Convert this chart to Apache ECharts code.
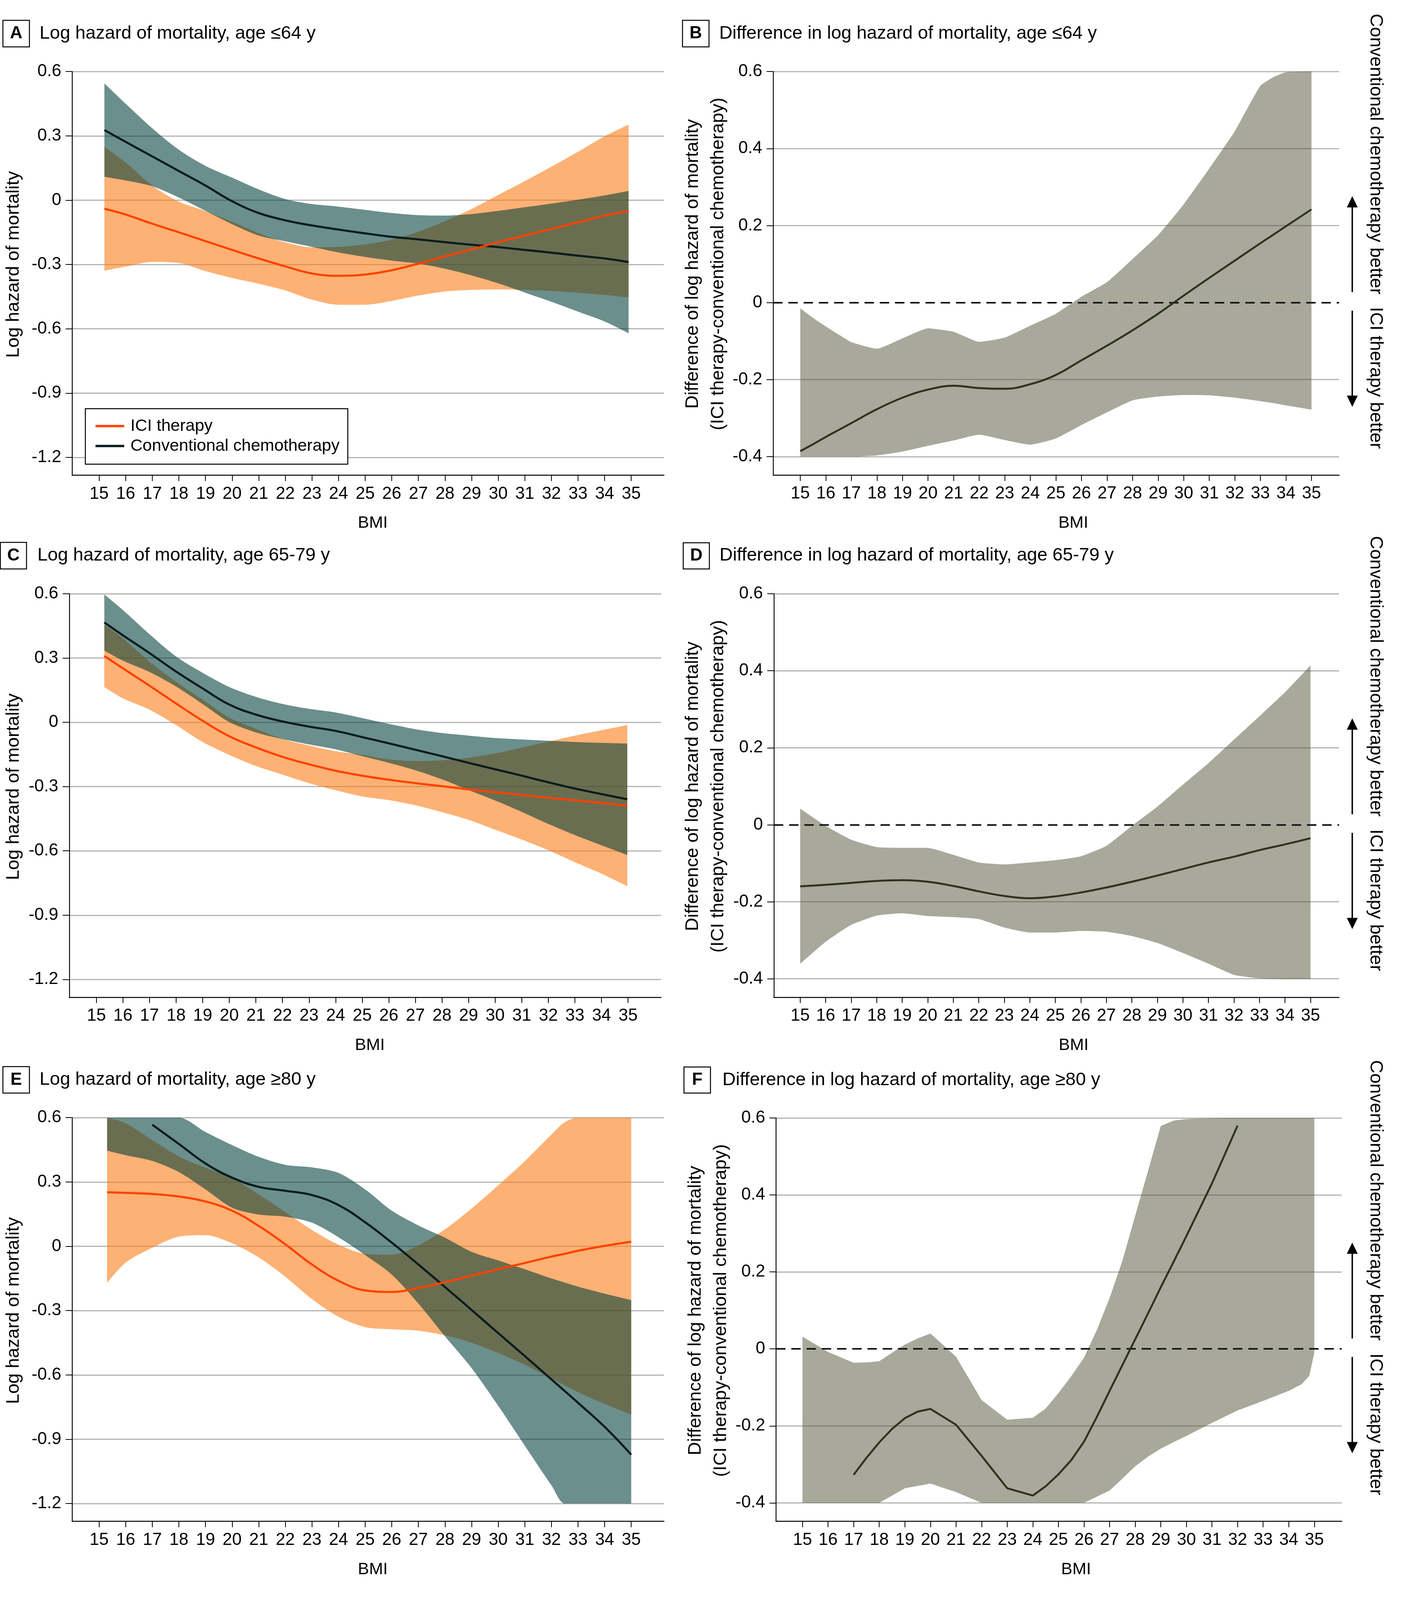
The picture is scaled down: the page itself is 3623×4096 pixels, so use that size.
<!DOCTYPE html>
<html><head><meta charset="utf-8">
<script src="https://cdn.jsdelivr.net/npm/echarts@6/dist/echarts.min.js"></script>
<style>html,body{margin:0;padding:0;background:#fff}#c{width:3623px;height:4096px}</style>
</head><body><div id="c"></div>
<script>
// ---------------- DATA ----------------
const bmiTicks = [15,16,17,18,19,20,21,22,23,24,25,26,27,28,29,30,31,32,33,34,35];
const hazardTicks = [-1.2,-0.9,-0.6,-0.3,0,0.3,0.6];
const diffTicks = [-0.4,-0.2,0,0.2,0.4,0.6];
const diffGridTicks = [-0.4,-0.2,0.2,0.4,0.6];

// Panel A: age <=64
const bmiA = [15.2,16,17,18,19,20,21,22,23,24,25,26,27,28,29,30,31,32,33,34,34.9];
const iciA = [-0.040,-0.067,-0.110,-0.150,-0.191,-0.232,-0.272,-0.309,-0.342,-0.353,-0.347,-0.327,-0.296,-0.262,-0.230,-0.196,-0.165,-0.134,-0.103,-0.072,-0.051];
const iciLowA = [-0.329,-0.310,-0.288,-0.293,-0.331,-0.363,-0.390,-0.421,-0.464,-0.488,-0.488,-0.470,-0.445,-0.426,-0.419,-0.416,-0.419,-0.424,-0.432,-0.442,-0.454];
const iciHighA = [0.249,0.176,0.068,-0.007,-0.051,-0.101,-0.154,-0.197,-0.220,-0.218,-0.206,-0.184,-0.147,-0.098,-0.041,0.024,0.089,0.156,0.226,0.298,0.352];
const chemoA = [0.327,0.272,0.204,0.136,0.068,-0.005,-0.060,-0.094,-0.118,-0.137,-0.155,-0.171,-0.183,-0.196,-0.208,-0.219,-0.232,-0.245,-0.259,-0.272,-0.289];
const chemoLowA = [0.109,0.092,0.065,0.012,-0.050,-0.112,-0.165,-0.192,-0.218,-0.244,-0.265,-0.282,-0.296,-0.320,-0.351,-0.388,-0.431,-0.474,-0.520,-0.566,-0.621];
const chemoHighA = [0.545,0.450,0.335,0.235,0.160,0.105,0.050,0.005,-0.018,-0.030,-0.045,-0.060,-0.070,-0.072,-0.065,-0.050,-0.033,-0.016,0.002,0.022,0.043];

// Panel B: difference, age <=64
const bmiB = [15,15.5,16,16.5,17,18,19,20,21,22,23,24,25,26,27,28,29,30,31,32,33,33.5,34,35];
const diffB = [-0.386,-0.368,-0.349,-0.331,-0.313,-0.277,-0.247,-0.226,-0.216,-0.222,-0.224,-0.212,-0.188,-0.150,-0.112,-0.072,-0.029,0.018,0.064,0.109,0.154,0.176,0.198,0.242];
const diffLowB = [-0.400,-0.400,-0.400,-0.400,-0.400,-0.397,-0.387,-0.372,-0.358,-0.343,-0.357,-0.369,-0.353,-0.318,-0.285,-0.254,-0.244,-0.240,-0.241,-0.247,-0.256,-0.261,-0.267,-0.278];
const diffHighB = [-0.015,-0.040,-0.062,-0.083,-0.103,-0.120,-0.093,-0.067,-0.076,-0.102,-0.091,-0.060,-0.029,0.015,0.053,0.113,0.175,0.255,0.348,0.445,0.563,0.585,0.598,0.600];

// Panel C: age 65-79
const bmiC = [15.3,16,17,18,19,20,21,22,23,24,25,26,27,28,29,30,31,32,33,34,34.97];
const iciC = [0.310,0.252,0.171,0.088,0.007,-0.065,-0.117,-0.161,-0.196,-0.226,-0.249,-0.268,-0.284,-0.298,-0.313,-0.326,-0.339,-0.352,-0.364,-0.376,-0.389];
const iciLowC = [0.165,0.112,0.059,-0.013,-0.092,-0.152,-0.204,-0.244,-0.284,-0.317,-0.346,-0.363,-0.387,-0.419,-0.455,-0.501,-0.547,-0.597,-0.653,-0.706,-0.765];
const iciHighC = [0.455,0.392,0.283,0.189,0.106,0.022,-0.030,-0.078,-0.108,-0.135,-0.152,-0.173,-0.181,-0.177,-0.165,-0.145,-0.118,-0.090,-0.062,-0.037,-0.013];
const chemoC = [0.466,0.406,0.323,0.237,0.158,0.083,0.036,0.004,-0.020,-0.040,-0.069,-0.098,-0.128,-0.158,-0.189,-0.219,-0.249,-0.280,-0.309,-0.335,-0.359];
const chemoLowC = [0.335,0.288,0.235,0.167,0.085,0.001,-0.047,-0.078,-0.103,-0.126,-0.158,-0.189,-0.224,-0.266,-0.316,-0.365,-0.418,-0.474,-0.526,-0.574,-0.619];
const chemoHighC = [0.597,0.524,0.411,0.307,0.231,0.165,0.119,0.086,0.063,0.046,0.020,-0.007,-0.032,-0.050,-0.062,-0.073,-0.080,-0.086,-0.092,-0.096,-0.099];

// Panel D: difference, age 65-79
const bmiD = [15,16,17,18,19,20,21,22,23,24,25,26,27,28,29,30,31,32,33,34,35];
const diffD = [-0.160,-0.156,-0.151,-0.146,-0.144,-0.148,-0.159,-0.173,-0.185,-0.191,-0.186,-0.176,-0.163,-0.148,-0.132,-0.115,-0.098,-0.083,-0.066,-0.051,-0.035];
const diffLowD = [-0.361,-0.304,-0.260,-0.236,-0.230,-0.237,-0.240,-0.245,-0.267,-0.280,-0.280,-0.276,-0.278,-0.289,-0.307,-0.333,-0.361,-0.390,-0.399,-0.401,-0.401];
const diffHighD = [0.042,-0.003,-0.039,-0.058,-0.060,-0.060,-0.078,-0.098,-0.103,-0.098,-0.092,-0.082,-0.055,-0.003,0.047,0.104,0.160,0.221,0.282,0.344,0.414];

// Panel E: age >=80
const bmiE = [15.3,16,17,18,19,20,21,22,23,24,25,26,27,28,29,30,31,32,32.5,33,34,35];
const iciE = [0.252,0.249,0.244,0.232,0.209,0.166,0.095,0.009,-0.085,-0.161,-0.206,-0.213,-0.195,-0.168,-0.137,-0.107,-0.078,-0.048,-0.035,-0.021,0.002,0.021];
const iciLowE = [-0.171,-0.076,-0.007,0.045,0.052,0.014,-0.052,-0.142,-0.246,-0.329,-0.377,-0.387,-0.394,-0.415,-0.450,-0.498,-0.553,-0.617,-0.649,-0.681,-0.735,-0.785];
const iciHighE = [0.600,0.574,0.495,0.419,0.366,0.318,0.242,0.160,0.076,0.007,-0.035,-0.039,0.004,0.079,0.176,0.284,0.397,0.521,0.579,0.600,0.600,0.600];
const chemoE = [null,null,0.567,0.477,0.386,0.320,0.277,0.259,0.239,0.192,0.112,0.017,-0.085,-0.190,-0.297,-0.405,-0.512,-0.621,-0.675,-0.730,-0.842,-0.972];
const chemoLowE = [0.446,0.425,0.398,0.346,0.265,0.180,0.148,0.138,0.110,0.042,-0.041,-0.132,-0.267,-0.420,-0.568,-0.744,-0.930,-1.115,-1.200,-1.200,-1.200,-1.200];
const chemoHighE = [0.600,0.600,0.600,0.600,0.533,0.472,0.417,0.380,0.368,0.342,0.265,0.166,0.097,0.040,-0.026,-0.066,-0.107,-0.150,-0.169,-0.188,-0.221,-0.251];

// Panel F: difference, age >=80
const bmiF = [15,16,17,17.5,18,18.5,19,19.5,20,21,22,23,24,24.5,25,25.5,26,26.5,27,27.5,28,28.5,29,29.5,30,31,32,33,34,34.5,34.8,35];
const diffF = [null,null,-0.327,-0.283,-0.243,-0.208,-0.180,-0.163,-0.156,-0.197,-0.278,-0.362,-0.381,-0.357,-0.326,-0.289,-0.241,-0.177,-0.109,-0.042,0.025,0.092,0.160,0.226,0.293,0.430,0.580,null,null,null,null,null];
const diffLowF = [-0.400,-0.400,-0.400,-0.400,-0.400,-0.381,-0.362,-0.356,-0.350,-0.372,-0.400,-0.400,-0.400,-0.400,-0.400,-0.400,-0.400,-0.384,-0.368,-0.337,-0.305,-0.280,-0.259,-0.242,-0.226,-0.192,-0.160,-0.135,-0.109,-0.092,-0.070,-0.010];
const diffHighF = [0.032,-0.008,-0.036,-0.035,-0.032,-0.010,0.011,0.027,0.040,-0.020,-0.133,-0.184,-0.179,-0.155,-0.115,-0.071,-0.023,0.049,0.132,0.229,0.346,0.462,0.579,0.593,0.597,0.599,0.600,0.600,0.600,0.600,0.600,0.600];

const panelTitles = [
  'Log hazard of mortality, age \u226464 y',
  'Difference in log hazard of mortality, age \u226464 y',
  'Log hazard of mortality, age 65-79 y',
  'Difference in log hazard of mortality, age 65-79 y',
  'Log hazard of mortality, age \u226580 y',
  'Difference in log hazard of mortality, age \u226580 y'
];
const panelLetters = ['A','B','C','D','E','F'];
const seriesNames = ['ICI therapy', 'Conventional chemotherapy'];
const hazardName = 'Log hazard of mortality';
const diffName = 'Difference of log hazard of mortality\n(ICI therapy-conventional chemotherapy)';
const upNote = 'Conventional chemotherapy better';
const downNote = 'ICI therapy better';

// ---------------- LAYOUT (reference pixels, scaled by S) ----------------
const S = 0.93;
const FONT = 'Liberation Sans, Arial, sans-serif';
const COL = {
  ici: '#ff4200', chemo: '#0a1c1c', diff: '#30321f',
  iciBand: 'rgba(252,125,23,0.6)', chemoBand: 'rgba(0,62,57,0.58)', diffBand: 'rgba(82,84,56,0.5)',
  grid: '#b4b4b4'
};
const layout = [
  {l:198.8, r:1828, t:197, b:1308, xmin:13.99, xmax:36.23, kind:'hazard'},
  {l:2128.6, r:3686.7, t:196.9, b:1307.7, xmin:13.94, xmax:36.08, kind:'diff'},
  {l:190.6, r:1820, t:1634.5, b:2745, xmin:13.98, xmax:36.24, kind:'hazard'},
  {l:2130.6, r:3686.7, t:1634.5, b:2745, xmin:13.97, xmax:36.12, kind:'diff'},
  {l:198.8, r:1828, t:3076.5, b:4187.8, xmin:13.99, xmax:36.23, kind:'hazard'},
  {l:2136.7, r:3694, t:3077.3, b:4187.8, xmin:13.97, xmax:36.07, kind:'diff'}
];
const boxes = [[8,56,73,73],[1879,56,73,73],[1,1493,72,73],[1881,1494,72,72],[8,2936,73,73],[1883,2937,73,72]];
const titlePos = [[109,92.5],[1980,92.5],[103,1529.5],[1981,1529.5],[109,2972.5],[1989,2973]];
const yNamePos = [[38,728],[1943,726.5],[38,2165.6],[1943,2164.5],[38,3607.7],[1950,3607.5]];
const noteOffsets = [0, 1437.5, 2880.3];

const grids = [], xAxes = [], yAxes = [], series = [];

function xy(xs, ys) { return xs.map((x, i) => [x, ys[i]]); }
// band = invisible lower line + stacked (upper - lower) area; data stored as [y, x]
// so that the stacked dimension is the value (y) dimension.
function bandSeries(gi, yi, id, xs, lo, hi, color, smooth, z) {
  const common = {type:'line', xAxisIndex:gi, yAxisIndex:yi, stack:'band'+id, stackStrategy:'all',
    encode:{x:1, y:0},
    symbol:'none', showSymbol:false, smooth:smooth, silent:true, z:z,
    lineStyle:{width:0, opacity:0}, emphasis:{disabled:true}};
  series.push(Object.assign({}, common, {name:id+'-lo', data: xs.map((x, i) => [lo[i], x])}));
  series.push(Object.assign({}, common, {name:id+'-hi',
    data: xs.map((x, i) => [+(hi[i] - lo[i]).toFixed(4), x]),
    areaStyle:{color:color, opacity:1}}));
}
function lineSeries(gi, yi, name, xs, ys, color, width, smooth, z, extra) {
  series.push(Object.assign({type:'line', name:name, xAxisIndex:gi, yAxisIndex:yi, data: xy(xs, ys),
    symbol:'none', showSymbol:false, smooth:smooth, silent:true, z:z, connectNulls:false,
    itemStyle:{color:color}, lineStyle:{color:color, width:width, cap:'butt'}, emphasis:{disabled:true}}, extra || {}));
}

layout.forEach((p, gi) => {
  grids.push({left:p.l*S, top:p.t*S, width:(p.r-p.l)*S, height:(p.b-p.t)*S,
    containLabel:false, outerBoundsMode:'none'});
  const isHaz = p.kind === 'hazard';
  xAxes.push({type:'value', gridIndex:gi, min:p.xmin, max:p.xmax,
    name:'BMI', nameLocation:'middle', nameGap:101.7,
    nameTextStyle:{fontSize:43, color:'#000', fontFamily:FONT, padding:[0,0,0,isHaz?24:88]},
    axisLine:{show:true, onZero:false, lineStyle:{color:'#000', width:2.6}},
    axisTick:{show:true, customValues:bmiTicks, length:15, lineStyle:{color:'#000', width:2}},
    axisLabel:{show:true, customValues:bmiTicks, margin:26, fontSize:44, color:'#000', fontFamily:FONT},
    splitLine:{show:false}, splitArea:{show:false}});
  const yMin = isHaz ? -1.283 : -0.448;
  const ticks = isHaz ? hazardTicks : diffTicks;
  const yi = yAxes.length;
  yAxes.push({type:'value', gridIndex:gi, min:yMin, max:0.6, position:'left',
    axisLine:{show:true, onZero:false, lineStyle:{color:'#000', width:2.3}},
    axisTick:{show:true, customValues:ticks, length:17, lineStyle:{color:'#000', width:2}},
    axisLabel:{show:true, customValues:ticks, margin:28, fontSize:44, color:'#000', fontFamily:FONT},
    splitLine:{show:isHaz, lineStyle:{color:COL.grid, width:2.9}}, splitArea:{show:false}});
  if (!isHaz) {
    yAxes.push({type:'value', gridIndex:gi, min:yMin, max:0.6, position:'right',
      axisLine:{show:false}, axisLabel:{show:false},
      axisTick:{show:false, customValues:diffGridTicks},
      splitLine:{show:true, lineStyle:{color:COL.grid, width:2.9}}, splitArea:{show:false}});
  }
  p.yi = yi;
});

const hazardData = [
  [bmiA, iciA, iciLowA, iciHighA, chemoA, chemoLowA, chemoHighA],
  [bmiC, iciC, iciLowC, iciHighC, chemoC, chemoLowC, chemoHighC],
  [bmiE, iciE, iciLowE, iciHighE, chemoE, chemoLowE, chemoHighE]
];
const diffData = [
  [bmiB, diffB, diffLowB, diffHighB, true],
  [bmiD, diffD, diffLowD, diffHighD, true],
  [bmiF, diffF, diffLowF, diffHighF, false]
];
[0,2,4].forEach((gi, k) => {
  const [xs, ici, iciLo, iciHi, ch, chLo, chHi] = hazardData[k];
  const yi = layout[gi].yi;
  bandSeries(gi, yi, 'ici'+gi, xs, iciLo, iciHi, COL.iciBand, 0.3, 2);
  bandSeries(gi, yi, 'chemo'+gi, xs, chLo, chHi, COL.chemoBand, 0.3, 3);
  lineSeries(gi, yi, seriesNames[1], xs, ch, COL.chemo, 5.4, 0.4, 4);
  lineSeries(gi, yi, seriesNames[0], xs, ici, COL.ici, 5.4, 0.4, 5);
});
[1,3,5].forEach((gi, k) => {
  const [xs, d, lo, hi, smoothLine] = diffData[k];
  const yi = layout[gi].yi;
  bandSeries(gi, yi, 'diff'+gi, xs, lo, hi, COL.diffBand, k === 2 ? false : 0.15, 2);
  lineSeries(gi, yi, 'Difference', xs, d, COL.diff, 5, smoothLine ? 0.4 : false, 5, {
    markLine:{silent:true, symbol:['none','none'], label:{show:false}, animation:false,
      emphasis:{disabled:true},
      lineStyle:{color:'#111', width:4, type:[24,15]}, data:[{yAxis:0}]}
  });
});

// ---------------- TEXT / DECORATION ----------------
const elements = [];
for (let i = 0; i < 6; i++) {
  const b = boxes[i];
  elements.push({type:'rect', z:20, shape:{x:b[0]*S, y:b[1]*S, width:b[2]*S, height:b[3]*S},
    style:{fill:'#fff', stroke:'#000', lineWidth:2.5}});
  elements.push({type:'text', z:21, x:(b[0]+b[2]/2)*S, y:(b[1]+b[3]/2)*S,
    style:{text:panelLetters[i], fontSize:44, fontWeight:'bold', fontFamily:FONT, fill:'#000', align:'center', verticalAlign:'middle'}});
  elements.push({type:'text', z:21, x:titlePos[i][0]*S, y:titlePos[i][1]*S,
    style:{text:panelTitles[i], fontSize:47, fontFamily:FONT, fill:'#000', align:'left', verticalAlign:'middle'}});
  const isHaz = layout[i].kind === 'hazard';
  elements.push({type:'text', z:21, x:yNamePos[i][0]*S, y:yNamePos[i][1]*S, rotation:Math.PI/2,
    style:{text: isHaz ? hazardName : diffName, fontSize:47, lineHeight:65, fontFamily:FONT, fill:'#000', align:'center', verticalAlign:'middle'}});
}
noteOffsets.forEach(dy => {
  elements.push({type:'text', z:21, x:3787*S, y:(424+dy)*S, rotation:-Math.PI/2,
    style:{text:upNote, fontSize:47, fontFamily:FONT, fill:'#000', align:'center', verticalAlign:'middle'}});
  elements.push({type:'text', z:21, x:3787*S, y:(1040.5+dy)*S, rotation:-Math.PI/2,
    style:{text:downNote, fontSize:47, fontFamily:FONT, fill:'#000', align:'center', verticalAlign:'middle'}});
  const ax = 3723*S, hw = 15*S, hh = 31*S;
  const upTip = (540+dy)*S, upTail = (804+dy)*S, dnTail = (855+dy)*S, dnTip = (1120+dy)*S;
  elements.push({type:'line', z:21, shape:{x1:ax, y1:upTip+hh-2, x2:ax, y2:upTail}, style:{stroke:'#000', lineWidth:3.7}});
  elements.push({type:'polygon', z:21, shape:{points:[[ax,upTip],[ax-hw,upTip+hh],[ax+hw,upTip+hh]]}, style:{fill:'#000'}});
  elements.push({type:'line', z:21, shape:{x1:ax, y1:dnTail, x2:ax, y2:dnTip-hh+2}, style:{stroke:'#000', lineWidth:3.7}});
  elements.push({type:'polygon', z:21, shape:{points:[[ax,dnTip],[ax-hw,dnTip-hh],[ax+hw,dnTip-hh]]}, style:{fill:'#000'}});
});

const option = {
  backgroundColor:'#fff',
  animation:false,
  textStyle:{fontFamily:FONT},
  tooltip:{show:false},
  grid: grids,
  xAxis: xAxes,
  yAxis: yAxes,
  legend:{
    data:[{name:seriesNames[0], itemStyle:{color:COL.ici}}, {name:seriesNames[1], itemStyle:{color:COL.chemo}}],
    orient:'vertical', left:235*S, top:1125*S, padding:[23,21,25,26], itemGap:8,
    itemWidth:73.5, itemHeight:6.2, icon:'rect', selectedMode:false,
    backgroundColor:'#fff', borderColor:'#000', borderWidth:2.5, borderRadius:0, z:10,
    textStyle:{fontFamily:FONT, fontSize:43, color:'#000', padding:[0,0,0,11]}
  },
  series: series,
  graphic:{elements: elements}
};
const chart = echarts.init(document.getElementById('c'), null, {renderer:'canvas', width:3623, height:4096});
chart.setOption(option);
</script>
</body></html>
